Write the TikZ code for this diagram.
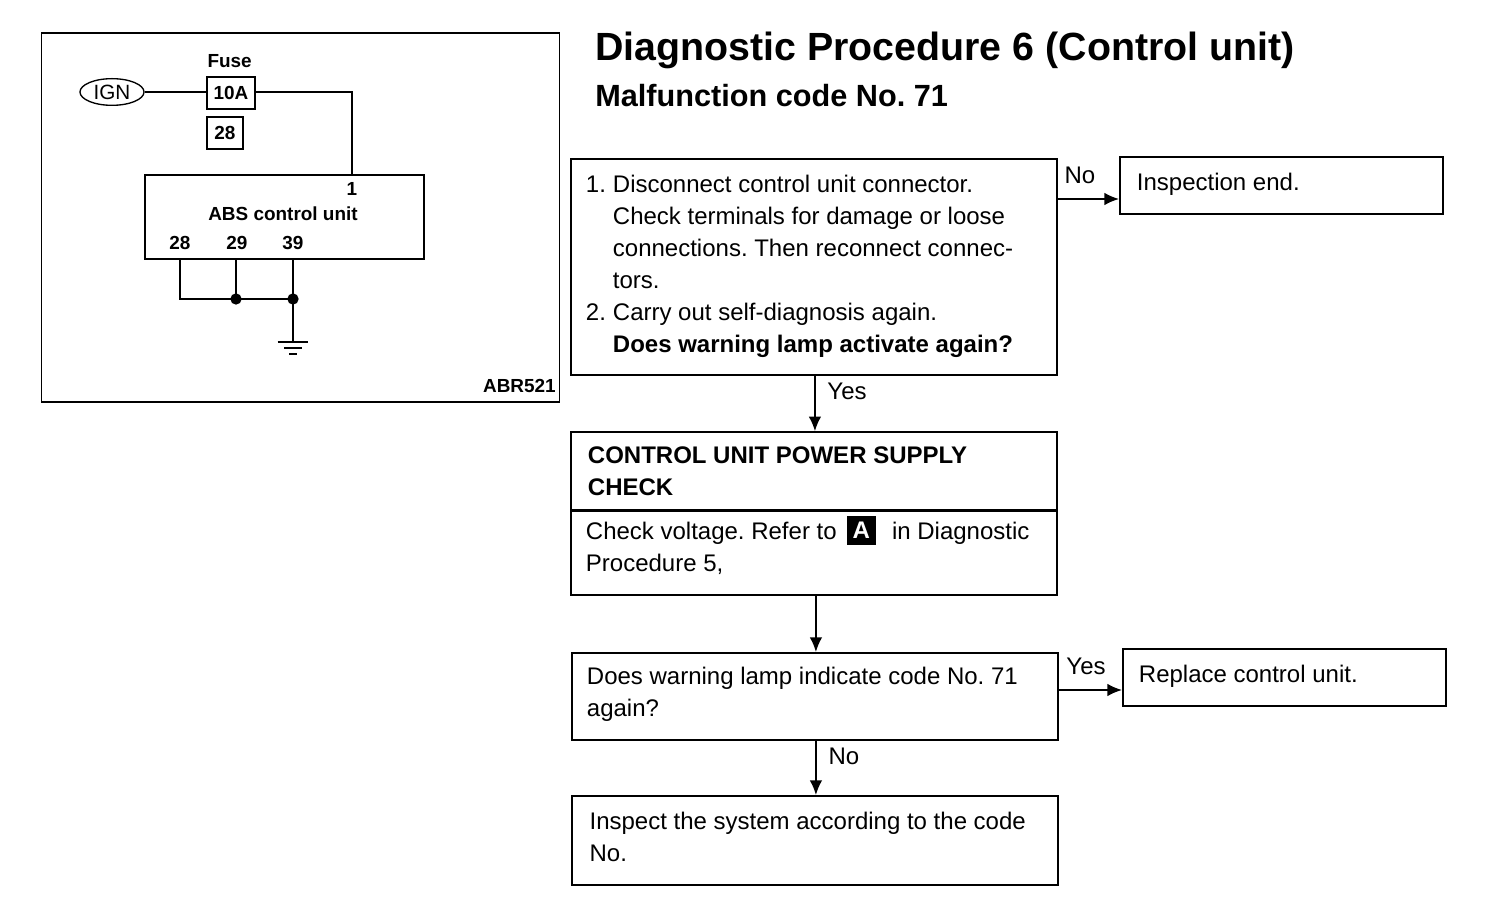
\documentclass[tikz,border=0pt]{standalone}
\usepackage{fontspec}
\setmainfont{Liberation Sans}
\usetikzlibrary{arrows.meta,positioning,shapes.geometric}
\newcommand{\nr}[1]{\makebox[20.25pt][l]{#1}}
\newcommand{\bodyfont}{\fontsize{18}{24}\selectfont}
\newcommand{\wirefont}{\fontsize{14.2}{16}\selectfont\bfseries}
\newcommand{\tagA}{\smash{\raisebox{0.5pt}{\setlength{\fboxsep}{4.5pt}\colorbox{black}{\color{white}\textbf{A}}}}}
\tikzset{
  flow/.style={draw,line width=1.4pt,anchor=north west,align=flush left,inner xsep=11.25pt,inner ysep=0pt,font=\bodyfont},
  wide/.style={flow,text width=342pt},
  narrow/.style={flow,text width=220pt},
  pad/.style={execute at end node={\par\vspace*{#1}}},
  label/.style={inner sep=0pt,font=\bodyfont},
  wirelabel/.style={inner sep=0pt,font=\wirefont},
  link/.style={line width=1.3pt,-{Latex[length=11pt,width=9.5pt]}},
  wire/.style={line width=1.3pt},
  part/.style={draw,line width=1.1pt,inner sep=0pt,font=\wirefont},
  spot/.style={circle,fill,inner sep=0pt,minimum size=8.5pt}
}
\begin{document}
\frenchspacing
\begin{tikzpicture}[x=0.75pt,y=-0.75pt]
  \useasboundingbox (0,0) rectangle (1504,912);
  % wiring panel
  \node (panel) [draw,line width=1.3pt,anchor=north west,inner sep=0pt,minimum width=388.5pt,minimum height=276.75pt] at (40.5,32.5) {};
  \node (ign) [draw,ellipse,line width=1pt,inner sep=0pt,minimum width=48pt,minimum height=20pt,font=\fontsize{15.5}{16}\selectfont] at (112,92) {IGN};
  \node (fuse) [part,minimum width=36pt,minimum height=24pt] at (231,93) {10A};
  \node (fusetag) [wirelabel,above=6pt of fuse,xshift=-1pt] {Fuse};
  \node (fuseno) [part,minimum width=27pt,minimum height=24pt] at (225,133) {28};
  \node (abs) [draw,line width=1.4pt,anchor=north west,inner sep=0pt,minimum width=209.25pt,minimum height=63pt] at (144,174) {};
  \node (absname) [wirelabel] at (283,214) {ABS control unit};
  \node (pin1) [wirelabel] at (352,189) {1};
  \node (pin28) [wirelabel] at (180,243) {28};
  \node (pin29) [wirelabel] at (237,243) {29};
  \node (pin39) [wirelabel] at (293,243) {39};
  \coordinate (turn) at (180,299);
  \node (join29) [spot] at (236,299) {};
  \node (join39) [spot] at (293,299) {};
  \coordinate (earth) at (293,342);
  \coordinate (earthb) at (293,348);
  \coordinate (earthc) at (293,354);
  \node (code) [wirelabel,anchor=east] at (556,386) {ABR521};
  \draw[wire] (ign) -- (fuse.west |- ign);
  \draw[wire] (fuse.east |- ign) -| (pin1 |- abs.north);
  \draw[wire] (pin28 |- abs.south) -- (turn) -- (join39.center) -- (earth);
  \draw[wire] (join29 |- abs.south) -- (join29.center);
  \draw[wire] (join39 |- abs.south) -- (join39.center);
  \draw[wire] ([xshift=-11.5pt]earth) -- ([xshift=11.5pt]earth);
  \draw[wire] ([xshift=-6.5pt]earthb) -- ([xshift=6.5pt]earthb);
  \draw[wire] ([xshift=-3pt]earthc) -- ([xshift=3pt]earthc);
  % headings
  \node (title) [anchor=west,inner sep=0pt,font=\fontsize{29.5}{30}\selectfont\bfseries] at (595,50) {Diagnostic Procedure 6 (Control unit)};
  \node (subtitle) [anchor=west,inner sep=0pt,font=\fontsize{23}{24}\selectfont\bfseries] at (595,96) {Malfunction code No. 71};
  % flow chart
  \node (disc) [wide,pad=1.5pt,minimum height=162pt] at (570,158) {%
    \nr{1.}Disconnect control unit connector.\\
    \nr{}Check terminals for damage or loose\\
    \nr{}connections. Then reconnect connec-\\
    \nr{}tors.\\
    \nr{2.}Carry out self-diagnosis again.\\
    \nr{}\textbf{Does warning lamp activate again?}};
  \node (finish) [narrow,pad=2pt,minimum height=43pt] at (1119,156) {\hspace*{1.5pt}Inspection end.};
  \node (head) [wide,minimum height=58pt,below=41.5pt of disc.south west,anchor=north west] {\hspace*{1.5pt}\textbf{CONTROL UNIT POWER SUPPLY}\\\hspace*{1.5pt}\textbf{CHECK}};
  \node (volt) [wide,pad=7pt,minimum height=62.5pt,anchor=north west] at (head.south west) {Check voltage. Refer to\hspace{7.5pt}\tagA\hspace{12pt}in Diagnostic\\Procedure 5,};
  \node (lamp) [wide,pad=3pt,minimum height=65pt] at (571,652) {Does warning lamp indicate code No. 71\\again?};
  \node (replace) [narrow,pad=1.5pt,minimum height=43pt] at (1122,648) {\hspace*{0.75pt}Replace control unit.};
  \node (inspect) [wide,pad=6pt,minimum height=67pt] at (571,795) {\hspace*{2pt}Inspect the system according to the code\\\hspace*{2pt}No.};
  \coordinate (noout) at (1090,199);
  \coordinate (yesout) at (1090,690);
  \draw[link] (disc.east |- noout) -- (finish.west |- noout);
  \draw[link] ([xshift=0.75pt]disc.south) -- ([xshift=0.75pt]head.north);
  \draw[link] ([xshift=0.75pt]lamp.north |- volt.south) -- ([xshift=0.75pt]lamp.north);
  \draw[link] ([xshift=0.75pt]lamp.south) -- ([xshift=0.75pt]inspect.north);
  \draw[link] (lamp.east |- yesout) -- (replace.west |- yesout);
  \node (no1) [label] at (1080,175) {No};
  \node (yes1) [label] at (847,391) {Yes};
  \node (yes2) [label] at (1086,666) {Yes};
  \node (no2) [label] at (844,756) {No};
\end{tikzpicture}
\end{document}
